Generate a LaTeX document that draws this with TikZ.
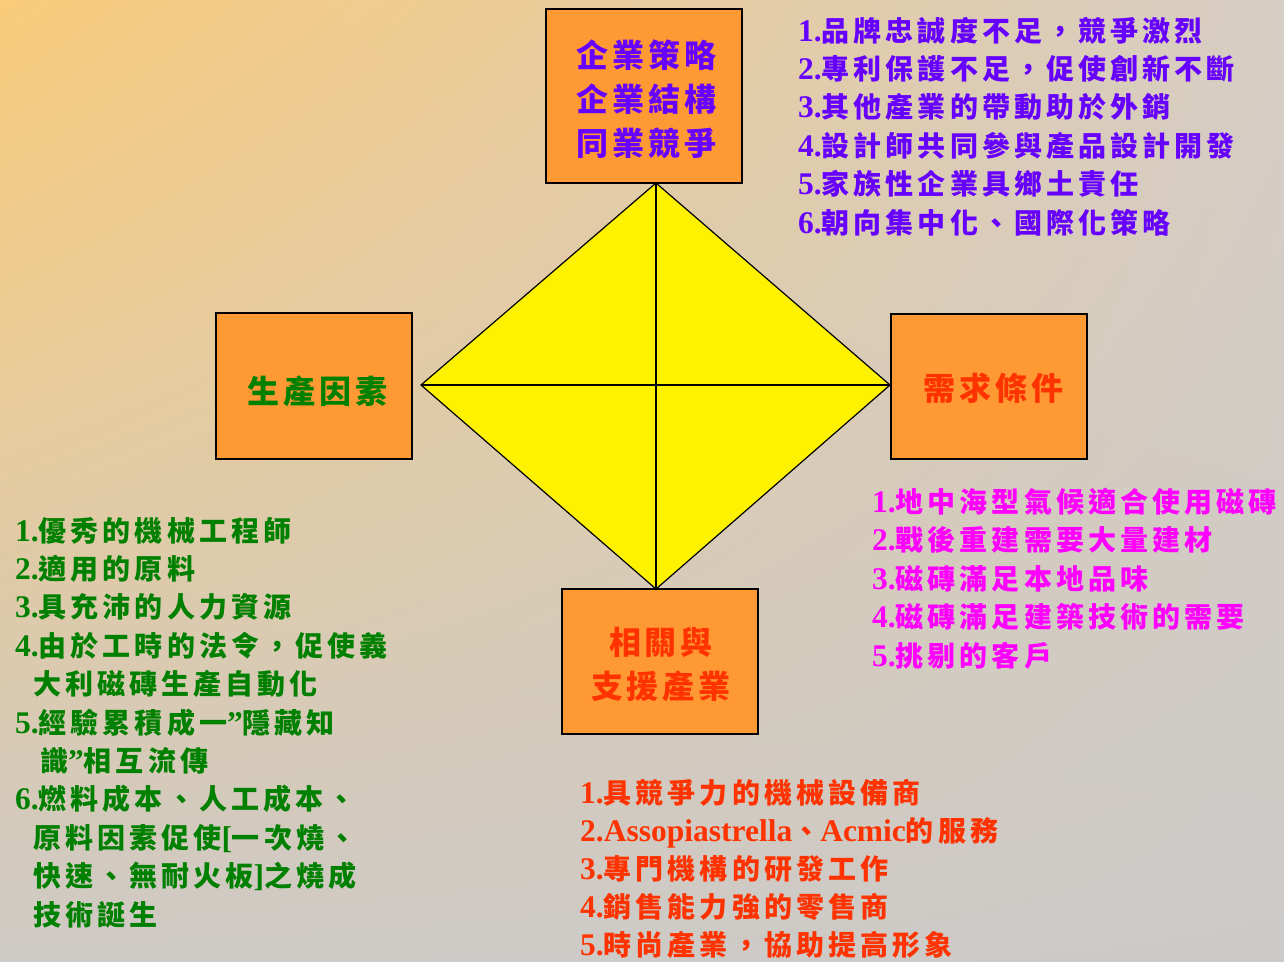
\documentclass[tikz,border=0pt]{standalone}
\usepackage{fontspec}
\usetikzlibrary{shadings}
\setmainfont{Liberation Serif}
\newfontfamily\cjk{Noto Sans CJK TC}[LetterSpace=14.5]
\newfontfamily\cjkbox{Noto Sans CJK TC}[LetterSpace=12.5]
\newcommand\lt[1]{{\rmfamily\bfseries\fontsize{31.5}{38.4}\selectfont #1}}
\definecolor{boxorange}{RGB}{255,153,51}
\definecolor{purp}{RGB}{102,0,255}
\definecolor{grn}{RGB}{0,128,0}
\definecolor{redor}{RGB}{255,51,0}
\definecolor{mag}{RGB}{255,0,255}
\definecolor{bgUL}{RGB}{249,203,122}
\definecolor{bgUR}{RGB}{214,205,196}
\definecolor{bgLL}{RGB}{206,202,198}
\definecolor{bgLR}{RGB}{204,202,200}
\begin{document}
\begin{tikzpicture}[x=1pt,y=-1pt,
  box/.style={draw=black,line width=1.5pt,fill=boxorange,minimum width=196pt,inner sep=0pt},
  boxlabel/.style={inner sep=0pt,align=center,font=\cjkbox\bfseries\fontsize{32}{44}\selectfont},
  item/.style={anchor=base west,inner sep=0pt,font=\cjk\bfseries\fontsize{28}{38.4}\selectfont},
  diam/.style={draw=black,line width=1.2pt,fill=yellow,line join=miter},
  cross/.style={draw=black,line width=1.2pt}]
\useasboundingbox (0,0) rectangle (1284,961);
\shade[upper left=bgUL,upper right=bgUR,lower left=bgLL,lower right=bgLR] (0,0) rectangle (1284,961);
% diamond vertices
\coordinate (dT) at (656,183);
\coordinate (dL) at (421,385);
\coordinate (dR) at (890,385);
\coordinate (dB) at (656,589);
\path[diam] (dT) -- (dR) -- (dB) -- (dL) -- cycle;
\path[cross] (dT) -- (dB);
\path[cross] (dL) -- (dR);
% boxes
\node[box,minimum height=174pt] (top) at (644,96) {};
\node[box,minimum height=146pt] (left) at (314,386) {};
\node[box,minimum height=145pt] (right) at (989,386.5) {};
\node[box,minimum height=145pt] (bottom) at (660,661.5) {};
\node[boxlabel,text=purp] (topL) at (646,99) {企業策略\\企業結構\\同業競爭};
\node[boxlabel,text=grn] (leftL) at (317,391) {生產因素};
\node[boxlabel,text=redor] (rightL) at (993,388) {需求條件};
\node[boxlabel,text=redor] (bottomL) at (661,665) {相關與\\支援產業};
% top-right list
\node[item,text=purp] (p1) at (798,41) {\lt{1.}品牌忠誠度不足，競爭激烈};
\node[item,text=purp] (p2) at (798,79.4) {\lt{2.}專利保護不足，促使創新不斷};
\node[item,text=purp] (p3) at (798,117.8) {\lt{3.}其他產業的帶動助於外銷};
\node[item,text=purp] (p4) at (798,156.2) {\lt{4.}設計師共同參與產品設計開發};
\node[item,text=purp] (p5) at (798,194.6) {\lt{5.}家族性企業具鄉土責任};
\node[item,text=purp] (p6) at (798,233) {\lt{6.}朝向集中化、國際化策略};
% left list
\node[item,text=grn] (g1) at (15,541) {\lt{1.}優秀的機械工程師};
\node[item,text=grn] (g2) at (15,579.4) {\lt{2.}適用的原料};
\node[item,text=grn] (g3) at (15,617.8) {\lt{3.}具充沛的人力資源};
\node[item,text=grn] (g4) at (15,656.2) {\lt{4.}由於工時的法令，促使義};
\node[item,text=grn] (g4b) at (33,694.6) {大利磁磚生產自動化};
\node[item,text=grn] (g5) at (15,733) {\lt{5.}經驗累積成一\lt{”}隱藏知};
\node[item,text=grn] (g5b) at (40,771.4) {識\lt{”}相互流傳};
\node[item,text=grn] (g6) at (15,809.8) {\lt{6.}燃料成本、人工成本、};
\node[item,text=grn] (g6b) at (33,848.2) {原料因素促使\lt{[}一次燒、};
\node[item,text=grn] (g6c) at (33,886.6) {快速、無耐火板\lt{]}之燒成};
\node[item,text=grn] (g6d) at (33,925) {技術誕生};
% right list
\node[item,text=mag] (m1) at (872,512) {\lt{1.}地中海型氣候適合使用磁磚};
\node[item,text=mag] (m2) at (872,550.6) {\lt{2.}戰後重建需要大量建材};
\node[item,text=mag] (m3) at (872,589.2) {\lt{3.}磁磚滿足本地品味};
\node[item,text=mag] (m4) at (872,627.8) {\lt{4.}磁磚滿足建築技術的需要};
\node[item,text=mag] (m5) at (872,666.4) {\lt{5.}挑剔的客戶};
% bottom list
\node[item,text=redor] (r1) at (580,803) {\lt{1.}具競爭力的機械設備商};
\node[item,text=redor] (r2) at (580,841) {\lt{2.Assopiastrella}、\lt{Acmic}的服務};
\node[item,text=redor] (r3) at (580,879) {\lt{3.}專門機構的研發工作};
\node[item,text=redor] (r4) at (580,917) {\lt{4.}銷售能力強的零售商};
\node[item,text=redor] (r5) at (580,955) {\lt{5.}時尚產業，協助提高形象};
\end{tikzpicture}
\end{document}
